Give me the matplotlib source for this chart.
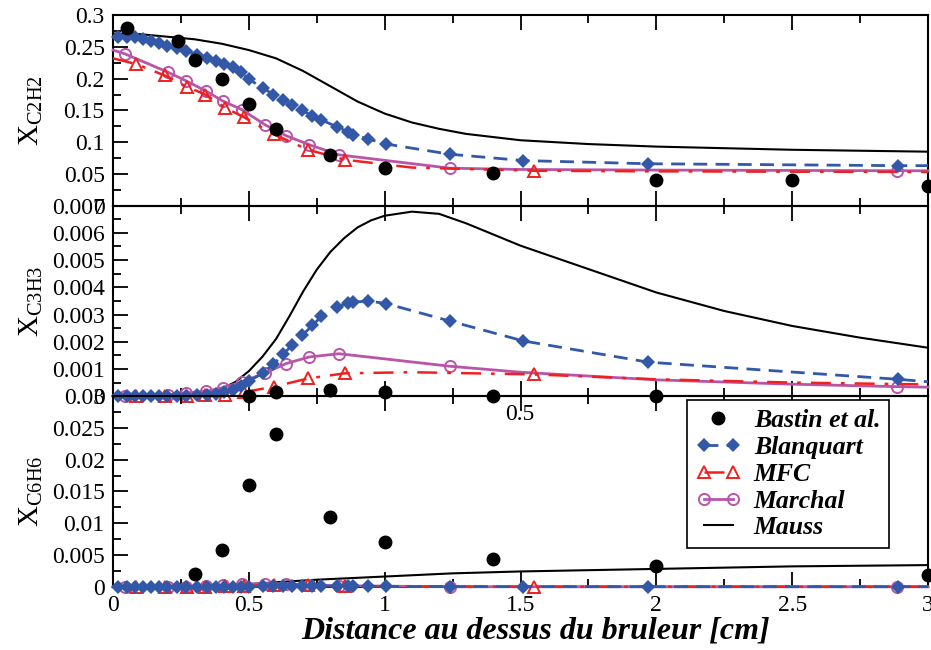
import numpy as np
import matplotlib
matplotlib.use("Agg")
import matplotlib.pyplot as plt
from matplotlib.ticker import MultipleLocator, FormatStrFormatter
from matplotlib.legend_handler import HandlerLine2D

plt.rcParams['font.family'] = ['Liberation Serif', 'DejaVu Serif']
plt.rcParams['mathtext.fontset'] = 'custom'
plt.rcParams['mathtext.rm'] = 'Liberation Serif'

# ---- data ----
# Bastin et al. (experiment)
bastin_x_c2h2 = [0.05, 0.24, 0.3, 0.4, 0.5, 0.6, 0.8, 1.0, 1.4, 2.0, 2.5, 3.0]
bastin_c2h2 = [0.28, 0.26, 0.23, 0.2, 0.16, 0.12, 0.08, 0.06, 0.051, 0.041, 0.041, 0.031]
bastin_x_c3h3 = [0.5, 0.6, 0.8, 1.0, 1.4, 2.0]
bastin_c3h3 = [0.00001, 0.00015, 0.00022, 0.00015, 0.00002, 0.00002]
bastin_x_c6h6 = [0.3, 0.4, 0.5, 0.6, 0.8, 1.0, 1.4, 2.0, 3.0]
bastin_c6h6 = [0.002, 0.0058, 0.016, 0.024, 0.011, 0.007, 0.0044, 0.0032, 0.0018]

# Blanquart
blq_x = [0.02, 0.05, 0.08, 0.11, 0.14, 0.17, 0.2, 0.235, 0.27, 0.31, 0.345, 0.38, 0.41, 0.44, 0.47,
         0.5, 0.553, 0.59, 0.626, 0.66, 0.697, 0.734, 0.767, 0.825, 0.866, 0.884, 0.94, 1.006, 1.24,
         1.51, 1.97, 2.89, 3.0]
blq_c2h2 = [0.266, 0.266, 0.265, 0.263, 0.26, 0.256, 0.252, 0.248, 0.244, 0.238, 0.233, 0.228,
            0.223, 0.218, 0.21, 0.199, 0.185, 0.175, 0.167, 0.158, 0.150, 0.141, 0.135, 0.124,
            0.116, 0.112, 0.105, 0.097, 0.081, 0.071, 0.066, 0.063, 0.063]
blq_c3h3 = [0, 0, 0, 0, 0, 0.00001, 0.00001, 0.00002, 0.00002, 0.00003, 0.00005, 0.00008, 0.00014,
            0.00022, 0.00036, 0.00055, 0.00086, 0.00117, 0.00154, 0.00188, 0.00224, 0.0026,
            0.00293, 0.00328, 0.00342, 0.00345, 0.0035, 0.0034, 0.00276, 0.00203, 0.00125,
            0.00062, 0.00053]
blq_c6h6 = [0, 0, 0, 0, 0, 0, 0, 0, 0, 0, 0, 0, 0, 0, 0, 0.00002, 0.00004, 0.00005, 0.00006,
            0.00007, 0.00008, 0.00008, 0.00008, 0.00007, 0.00006, 0.00005, 0.00004, 0.00003,
            0.00002, 0.00001, 0, 0, 0]

# MFC
mfc_x = [0, 0.085, 0.19, 0.273, 0.34, 0.414, 0.483, 0.592, 0.718, 0.853, 1.1, 1.548, 2.0, 2.5, 3.0]
mfc_marks = [1, 2, 3, 4, 5, 6, 7, 8, 9, 11]
mfc_c2h2 = [0.232, 0.223, 0.205, 0.187, 0.175, 0.154, 0.139, 0.1125, 0.088, 0.0724, 0.06, 0.055,
            0.054, 0.0535, 0.053]
mfc_c3h3 = [0, 0, 0.00001, 0.00002, 0.00003, 0.00006, 0.00015, 0.00035, 0.00065, 0.00084, 0.00088,
            0.0008, 0.00062, 0.0005, 0.00043]
mfc_c6h6 = [0, 0, 0, 0, 0.00002, 0.00005, 0.0001, 0.0003, 0.0002, 0.0001, 0.00003, 0, 0, 0, 0]

# Marchal
mar_x = [0, 0.044, 0.203, 0.267, 0.344, 0.403, 0.475, 0.561, 0.638, 0.722, 0.832, 1.24, 1.5, 2.0,
         2.5, 2.885, 3.0]
mar_marks = [1, 2, 3, 4, 5, 6, 7, 8, 9, 10, 11, 15]
mar_c2h2 = [0.245, 0.239, 0.21, 0.197, 0.18, 0.165, 0.151, 0.127, 0.11, 0.096, 0.08, 0.059, 0.057,
            0.056, 0.0555, 0.055, 0.055]
mar_c3h3 = [0, 0, 0.00005, 0.00012, 0.00018, 0.00031, 0.00052, 0.00086, 0.0012, 0.00144, 0.00156,
            0.0011, 0.00088, 0.0006, 0.00044, 0.00035, 0.00033]
mar_c6h6 = [0, 0, 0, 0.00002, 0.00008, 0.0002, 0.00035, 0.0005, 0.00045, 0.0003, 0.00015, 0, 0, 0,
            0, 0, 0]

# Mauss
mau_x_c2h2 = [0, 0.1, 0.2, 0.3, 0.4, 0.5, 0.6, 0.7, 0.8, 0.9, 1.0, 1.1, 1.2, 1.3, 1.5, 1.75, 2.0,
              2.5, 3.0]
mau_c2h2 = [0.271, 0.270, 0.266, 0.262, 0.255, 0.245, 0.232, 0.212, 0.188, 0.164, 0.145, 0.131,
            0.121, 0.113, 0.103, 0.097, 0.093, 0.088, 0.085]
mau_x_c3h3 = [0, 0.1, 0.2, 0.3, 0.35, 0.4, 0.45, 0.5, 0.55, 0.6, 0.65, 0.7, 0.75, 0.8, 0.85, 0.9,
              0.95, 1.0, 1.1, 1.2, 1.3, 1.5, 1.75, 2.0, 2.25, 2.5, 2.75, 3.0]
mau_c3h3 = [0, 0.00001, 0.00004, 0.0001, 0.00016, 0.00027, 0.00052, 0.00092, 0.00145, 0.0021,
            0.00295, 0.00385, 0.00465, 0.0053, 0.0058, 0.0062, 0.00646, 0.00663, 0.00678, 0.0067,
            0.00635, 0.00553, 0.00467, 0.00381, 0.00313, 0.00258, 0.00215, 0.00178]
mau_x_c6h6 = [0, 0.2, 0.3, 0.4, 0.5, 0.6, 0.75, 1.0, 1.25, 1.5, 2.0, 2.5, 3.0]
mau_c6h6 = [0, 0.00002, 0.00008, 0.0002, 0.0004, 0.0007, 0.0011, 0.0016, 0.0021, 0.0024, 0.0028,
            0.0032, 0.0034]

ylabels = [r'X$_{\rm C2H2}$', r'X$_{\rm C3H3}$', r'X$_{\rm C6H6}$']
ylims = [0.3, 0.007, 0.03]
ysteps = [0.05, 0.001, 0.005]

BLUE = '#3358a8'
RED = '#f02020'
PINK = '#b955a8'

fig = plt.figure(figsize=(9.31, 6.5), dpi=100)
left, width, h = 0.1214, 0.8754, 0.2931
bottoms = [0.0974 + 2 * h, 0.0974 + h, 0.0974]
axes = [fig.add_axes([left, b, width, h]) for b in bottoms]

panels = [
    (bastin_x_c2h2, bastin_c2h2, blq_c2h2, mfc_c2h2, mar_c2h2, mau_x_c2h2, mau_c2h2),
    (bastin_x_c3h3, bastin_c3h3, blq_c3h3, mfc_c3h3, mar_c3h3, mau_x_c3h3, mau_c3h3),
    (bastin_x_c6h6, bastin_c6h6, blq_c6h6, mfc_c6h6, mar_c6h6, mau_x_c6h6, mau_c6h6),
]

for i, (ax, p) in enumerate(zip(axes, panels)):
    bx, by, blq, mfc, mar, mx, my = p
    ax.plot(mx, my, color='black', lw=1.5, label='Mauss', clip_on=False, zorder=2)
    ax.plot(mar_x, mar, color=PINK, lw=2, marker='o', ms=8, mfc='none', mew=1.4,
            markevery=mar_marks, label='Marchal', clip_on=False, zorder=3)
    ax.plot(mfc_x, mfc, color=RED, lw=1.8, ls=(0, (8, 4, 1.5, 4)), marker='^', ms=8, mfc='none',
            mew=1.4, markevery=mfc_marks, label='MFC', clip_on=False, zorder=4)
    ax.plot(blq_x, blq, color=BLUE, lw=2, ls=(0, (5, 3)), marker='D', ms=7.5, mew=0,
            markevery=slice(0, -1), label='Blanquart', clip_on=False, zorder=5)
    ax.plot(bx, by, ls='none', marker='o', ms=9, color='black', label='Bastin et al.',
            clip_on=False, zorder=6)

    ax.set_xlim(0, 3)
    ax.set_ylim(0, ylims[i])
    ax.xaxis.set_major_locator(MultipleLocator(0.5))
    ax.xaxis.set_minor_locator(MultipleLocator(0.25))
    ax.yaxis.set_major_locator(MultipleLocator(ysteps[i]))
    ax.yaxis.set_minor_locator(MultipleLocator(ysteps[i] / 2))
    ax.yaxis.set_major_formatter(FormatStrFormatter('%g'))
    ax.xaxis.set_major_formatter(FormatStrFormatter('%g'))
    ax.tick_params(which='both', direction='in', top=True, right=False, width=1.3,
                   labelsize=17, labelbottom=(i == 2), pad=6)
    ax.tick_params(which='major', length=11)
    ax.tick_params(which='minor', length=5.5)
    for s in ax.spines.values():
        s.set_linewidth(1.5)
    ax.set_ylabel(ylabels[i], fontsize=21)
    ax.yaxis.set_label_coords(-0.083, 0.5)
    ax.patch.set_alpha(0)

axes[2].set_xlabel('Distance au dessus du bruleur [cm]', fontsize=23, fontweight='bold',
                   style='italic', labelpad=0)
axes[2].xaxis.label.set_x(0.519)

# legend in the bottom panel
handles, labels = axes[2].get_legend_handles_labels()
order = [4, 3, 2, 1, 0]
leg = axes[2].legend([handles[k] for k in order], [labels[k] for k in order],
                     loc='upper left', bbox_to_anchor=(687 / 931, 1 - 400 / 650),
                     bbox_transform=fig.transFigure, borderaxespad=0, fancybox=False,
                     framealpha=1, edgecolor='black', numpoints=2, handlelength=1.75,
                     labelspacing=0.15, borderpad=0.35, handletextpad=0.5,
                     prop={'family': 'Liberation Serif', 'weight': 'bold', 'style': 'italic',
                           'size': 18.5},
                     handler_map={handles[4]: HandlerLine2D(numpoints=1)})
leg.get_frame().set_linewidth(1.2)
leg.set_zorder(10)

# stray tick label visible under the middle panel
fig.text(520 / 931, 1 - 415 / 650, '0.5', ha='center', va='center', fontsize=17)

fig.savefig('out.png', dpi=100)
